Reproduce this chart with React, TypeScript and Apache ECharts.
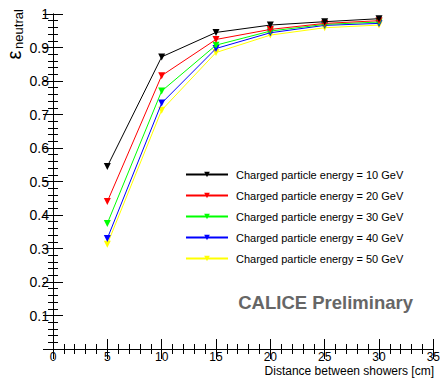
import React, { useEffect, useRef } from "react";
import * as echarts from "echarts";

const distances = [5, 10, 15, 20, 25, 30];
const seriesNames = [
  "Charged particle energy = 10 GeV",
  "Charged particle energy = 20 GeV",
  "Charged particle energy = 30 GeV",
  "Charged particle energy = 40 GeV",
  "Charged particle energy = 50 GeV",
];
const eff10 = [0.545, 0.872, 0.945, 0.967, 0.977, 0.986];
const eff20 = [0.44, 0.816, 0.924, 0.954, 0.972, 0.98];
const eff30 = [0.375, 0.77, 0.907, 0.949, 0.969, 0.976];
const eff40 = [0.33, 0.734, 0.897, 0.944, 0.966, 0.972];
const eff50 = [0.313, 0.713, 0.885, 0.937, 0.959, 0.967];
const colors = ["#000000", "#ff0000", "#00ff00", "#0000ff", "#ffff00"];
const allData = [eff10, eff20, eff30, eff40, eff50];

const FONT = "'Liberation Sans', Arial, sans-serif";

export default function App() {
  const ref = useRef<HTMLDivElement>(null);
  useEffect(() => {
    if (!ref.current) return;
    const chart = echarts.init(ref.current, null, { renderer: "svg" });
    const axisLine = { show: true, lineStyle: { color: "#000", width: 1 } };
    const tick = { show: true, inside: true, length: 10, lineStyle: { color: "#000" } };
    const minor = { show: true, splitNumber: 5, length: 5, lineStyle: { color: "#000" } };
    chart.setOption({
      animation: false,
      backgroundColor: "#fff",
      textStyle: { fontFamily: FONT },
      grid: { left: 53, right: 9, top: 14, bottom: 30 },
      legend: {
        orient: "vertical",
        left: 180,
        top: 164,
        itemWidth: 42,
        itemHeight: 7,
        itemGap: 10,
        data: seriesNames,
        textStyle: { fontSize: 11, color: "#000", fontFamily: FONT, padding: [0, 0, 0, 3] },
      },
      xAxis: [
        {
          type: "value",
          min: 0,
          max: 35,
          interval: 5,
          position: "bottom",
          axisLine,
          axisTick: tick,
          minorTick: minor,
          splitLine: { show: false },
          axisLabel: { fontSize: 12, lineHeight: 11, color: "#000", margin: 2, fontFamily: FONT },
        },
        {
          type: "value",
          min: 0,
          max: 35,
          interval: 5,
          position: "top",
          axisLine,
          axisTick: tick,
          minorTick: minor,
          splitLine: { show: false },
          axisLabel: { show: false },
        },
      ],
      yAxis: [
        {
          type: "value",
          min: 0,
          max: 1,
          interval: 0.1,
          position: "left",
          axisLine,
          axisTick: tick,
          minorTick: minor,
          splitLine: { show: false },
          axisLabel: {
            fontSize: 14,
            color: "#000",
            margin: 4,
            fontFamily: FONT,
            formatter: (v: number) => (v === 0 ? "" : String(Math.round(v * 10) / 10)),
          },
        },
        {
          type: "value",
          min: 0,
          max: 1,
          interval: 0.1,
          position: "right",
          axisLine,
          axisTick: tick,
          minorTick: minor,
          splitLine: { show: false },
          axisLabel: { show: false },
        },
      ],
      series: allData.map((d, i) => ({
        name: seriesNames[i],
        type: "line",
        xAxisIndex: 0,
        yAxisIndex: 0,
        data: distances.map((x, j) => [x, d[j]]),
        symbol: "triangle",
        symbolRotate: 180,
        symbolSize: 7,
        color: colors[i],
        lineStyle: { color: colors[i], width: 1 },
        itemStyle: { color: colors[i] },
        z: 10 - i,
      })),
      graphic: [
        {
          type: "text",
          x: 434,
          y: 370.5,
          style: {
            text: "Distance between showers [cm]",
            fontSize: 12,
            lineHeight: 12,
            fill: "#000",
            fontFamily: FONT,
            align: "right",
            verticalAlign: "middle",
          },
        },
        {
          type: "text",
          x: 413,
          y: 302,
          style: {
            text: "CALICE Preliminary",
            fontSize: 18.5,
            fontWeight: "bold",
            fill: "#666666",
            fontFamily: FONT,
            align: "right",
            verticalAlign: "middle",
          },
        },
        {
          type: "text",
          x: 14,
          y: 55,
          rotation: Math.PI / 2,
          style: {
            text: "ε",
            fontSize: 20,
            fill: "#000",
            fontFamily: FONT,
            align: "center",
            verticalAlign: "middle",
          },
        },
        {
          type: "text",
          x: 18,
          y: 29,
          rotation: Math.PI / 2,
          style: {
            text: "neutral",
            fontSize: 13,
            fill: "#000",
            fontFamily: FONT,
            align: "center",
            verticalAlign: "middle",
          },
        },
      ],
    });
    return () => chart.dispose();
  }, []);
  return <div ref={ref} style={{ width: 443, height: 379, position: "absolute", left: 0, top: 0 }} />;
}
